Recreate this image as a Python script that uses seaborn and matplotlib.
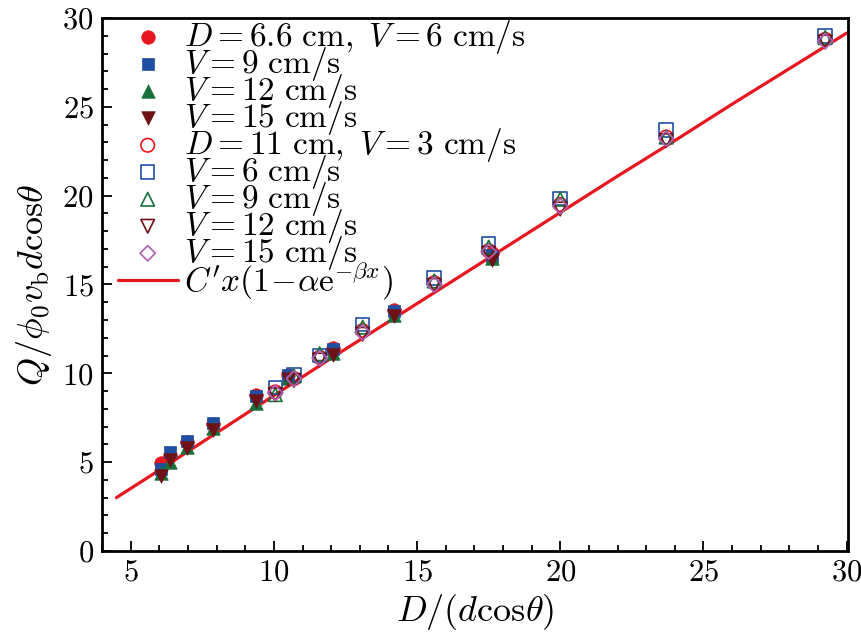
import matplotlib
matplotlib.use("Agg")
import matplotlib.pyplot as plt
import numpy as np
import pandas as pd
import seaborn as sns
from matplotlib.ticker import MultipleLocator

# D = 6.6 cm, filled markers
x_66 = [6.07, 6.38, 6.98, 7.88, 9.37, 10.5, 12.06, 14.2, 17.6]
y_66_v6 = [4.95, 5.35, 6.15, 7.15, 8.8, 9.9, 11.42, 13.55, 16.75]
y_66_v9 = [4.6, 5.55, 6.2, 7.2, 8.7, 9.9, 11.37, 13.5, 16.6]
y_66_v12 = [4.4, 5.0, 5.85, 6.9, 8.35, 9.75, 11.15, 13.28, 16.5]
y_66_v15 = [4.2, 5.1, 5.8, 6.8, 8.45, 9.7, 11.05, 13.22, 16.4]

# D = 11 cm, open markers
x_11 = [10.05, 10.7, 11.6, 13.1, 15.6, 17.5, 20.0, 23.7, 29.25]
y_11_v3 = [8.95, 9.7, 10.9, 12.4, 15.1, 16.9, 19.5, 23.3, 28.8]
y_11_v6 = [9.2, 9.9, 11.0, 12.75, 15.35, 17.3, 19.85, 23.7, 29.0]
y_11_v9 = [8.8, 9.85, 11.1, 12.6, 15.2, 17.1, 19.8, 23.3, 28.9]
y_11_v12 = [8.8, 9.6, 10.75, 12.2, 14.95, 16.75, 19.25, 23.1, 28.65]
y_11_v15 = [8.9, 9.7, 10.85, 12.3, 15.0, 16.85, 19.4, 23.2, 28.7]

# fitted curve
fit_x = [4.5, 6, 8, 10, 12, 14, 16, 18, 20, 22, 24, 26, 28, 30]
fit_y = [3.0, 4.55, 6.65, 8.75, 10.85, 12.9, 14.95, 17.0, 19.05, 21.1, 23.1, 25.15, 27.15, 29.15]

red = "#e8161f"
blue = "#1f4fa3"
green = "#18703a"
darkred = "#6e1216"
purple = "#b05fb4"

sns.set_style("ticks")
plt.rcParams["font.family"] = ["cmr10", "DejaVu Serif"]
plt.rcParams["mathtext.fontset"] = "cm"
plt.rcParams["axes.formatter.use_mathtext"] = True
for k in ["text.color", "axes.labelcolor", "xtick.color", "ytick.color"]:
    plt.rcParams[k] = "black"

fig = plt.figure(figsize=(8.61, 6.36), dpi=100)
ax = fig.add_axes([0.1185, 0.1337, 0.8665, 0.838])

filled = [
    (y_66_v6, "o", red, r"$D=6.6\ \mathrm{cm},\ V=6\ \mathrm{cm/s}$"),
    (y_66_v9, "s", blue, r"$V=9\ \mathrm{cm/s}$"),
    (y_66_v12, "^", green, r"$V=12\ \mathrm{cm/s}$"),
    (y_66_v15, "v", darkred, r"$V=15\ \mathrm{cm/s}$"),
]
opened = [
    (y_11_v3, "o", red, r"$D=11\ \mathrm{cm},\ V=3\ \mathrm{cm/s}$"),
    (y_11_v6, "s", blue, r"$V=6\ \mathrm{cm/s}$"),
    (y_11_v9, "^", green, r"$V=9\ \mathrm{cm/s}$"),
    (y_11_v12, "v", darkred, r"$V=12\ \mathrm{cm/s}$"),
    (y_11_v15, "D", purple, r"$V=15\ \mathrm{cm/s}$"),
]

for yv, m, c, lab in filled:
    sz = 95 if m != "s" else 80
    sns.scatterplot(x=x_66, y=yv, marker=m, s=sz, color=c, edgecolor=c,
                    linewidth=0.5, label=lab, ax=ax, zorder=3)

for yv, m, c, lab in opened:
    sz = 95 if m != "D" else 60
    sns.scatterplot(x=x_11, y=yv, marker=m, s=sz, facecolors="none",
                    edgecolors=c, linewidth=1.2, label=lab, ax=ax, zorder=4)

sns.lineplot(x=fit_x, y=fit_y, color="#e8161f", linewidth=2.3, sort=False,
             label=r"$C'x(1\!-\!\alpha\mathrm{e}^{-\beta x})$", ax=ax, zorder=2)

ax.set_xlim(4.0, 30.05)
ax.set_ylim(0, 30)
ax.xaxis.set_major_locator(MultipleLocator(5))
ax.xaxis.set_minor_locator(MultipleLocator(1))
ax.yaxis.set_major_locator(MultipleLocator(5))
ax.yaxis.set_minor_locator(MultipleLocator(1))
ax.tick_params(which="both", direction="in", top=False, right=False,
               labelsize=22, width=1.3, pad=6)
ax.tick_params(which="major", length=7)
ax.tick_params(which="minor", length=4)
for sp in ax.spines.values():
    sp.set_linewidth(2.0)
    sp.set_color("black")

ax.set_xlabel(r"$D/(d\mathrm{cos}\theta)$", fontsize=26, labelpad=4)
ax.set_ylabel(r"$Q/\phi_0 v_{\mathrm{b}} d\mathrm{cos}\theta$", fontsize=26, labelpad=6)

leg = ax.legend(loc="upper left", bbox_to_anchor=(0.021, 1.0), frameon=False,
                fontsize=24, labelspacing=-0.33, handletextpad=0.2,
                handlelength=1.8, borderaxespad=0, borderpad=0)

fig.savefig("out.png", dpi=100)
